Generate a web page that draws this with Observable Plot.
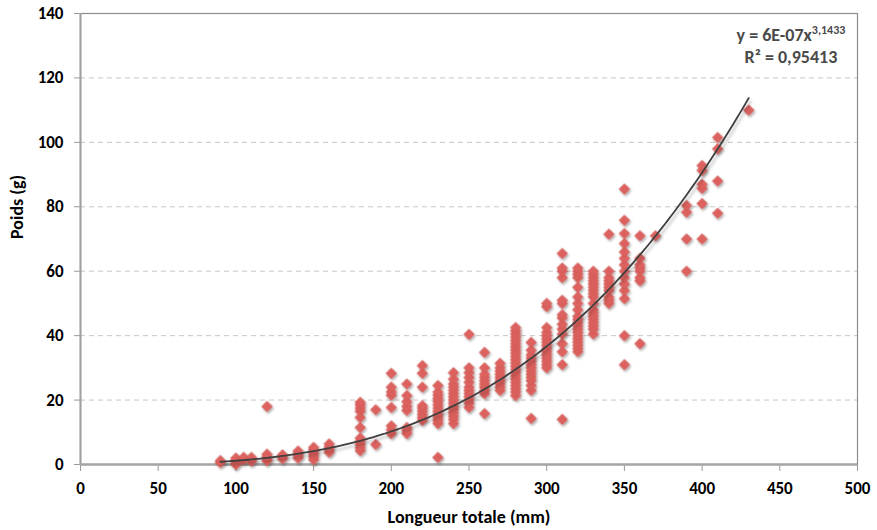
<!DOCTYPE html>
<html>
<head>
<meta charset="utf-8">
<script src="https://cdn.jsdelivr.net/npm/d3@7"></script>
<script src="https://cdn.jsdelivr.net/npm/@observablehq/plot@0.6"></script>
<style>
  html, body { margin: 0; padding: 0; background: #fff; }
</style>
</head>
<body>
<div id="chart"></div>
<script>
// ---- Data ----
const lengths = [90,100,105,110,120,130,140,150,160,180,190,200,210,220,230,240,250,260,270,280,290,300,310,320,330,340,350,360,370,390,400,410,430];
const weights = [
  [0.6, 1.2],
  [0, 0.4, 1, 1.5, 2],
  [1.5, 2.2],
  [1, 1.6, 2.2],
  [1.2, 1.8, 2.4, 3.2, 18],
  [1.8, 2.5, 3],
  [2, 2.8, 3.4, 4.2],
  [1.5, 2.4, 3.2, 4, 4.6, 5.3],
  [3.8, 4.6, 5.4, 6.4],
  [4.3, 5.2, 6.2, 7.2, 8.2, 11.5, 14.6, 16.5, 17.5, 18.5, 19.3],
  [6.2, 17],
  [9.6, 10.8, 12, 17.7, 21.5, 22.5, 24, 28.3],
  [9.6, 10.6, 11.5, 16.8, 18, 19.5, 21.4, 25],
  [13.7, 14.6, 15.5, 16.5, 17.5, 18.3, 24, 28.3, 30.7],
  [2.2, 12.7, 13.7, 14.6, 15.6, 16.5, 17.5, 18.5, 19.5, 20.5, 21.5, 22.5, 24.5],
  [12.7, 14, 15, 16, 17, 18, 19, 20, 21, 22, 23, 24, 25, 26.5, 28.5],
  [17.7, 19, 20, 21, 22, 23, 24, 25.5, 27, 28.5, 30, 40.4],
  [15.8, 22, 23, 24, 25, 26, 27, 28, 30, 34.8],
  [23, 24, 25, 26, 27, 28, 29, 30, 31.4],
  [21.4, 22.5, 23.5, 24.5, 25.5, 26.5, 27.5, 28.5, 29.5, 30.5, 31.5, 32.5, 33.5, 34.5, 35.5, 36.5, 37.5, 38.5, 39.5, 40.5, 41.5, 42.5],
  [14.3, 23, 24.5, 26, 27, 28, 29, 30, 31, 32, 33, 34, 35.5, 37.9],
  [30, 31, 32, 33, 34, 35, 36, 37, 38, 39, 40, 41, 42.5, 49, 50],
  [14, 31, 35, 37.5, 40.5, 42, 43.5, 45.5, 46.5, 50, 51, 58, 60, 61, 65.5],
  [35, 36, 37, 38, 39, 40, 41, 42, 43, 44, 45, 46, 48, 50, 52, 55, 58, 59, 60, 61],
  [40.5, 42, 43, 44, 45, 46, 47, 48, 50, 52, 53, 54, 55, 56, 57, 58, 59, 60],
  [50, 51, 52, 54, 55, 56, 57, 58, 60, 71.5],
  [31, 40, 51.5, 54, 56, 58, 60, 62, 64, 66, 68.6, 71.7, 75.8, 85.5],
  [37.5, 57, 58, 60, 61, 62, 64, 71],
  [71],
  [60, 70, 78.3, 80.4],
  [70, 81, 85.7, 87, 91.3, 92.8],
  [78, 88, 98, 101.5],
  [110]
];
// Power trendline shown on the chart: y = 6E-07 x^3.1433, R² = 0.95413
const trendCoef = 6e-7;
const trendExp = 3.1433;
const trendRange = [90, 430];
const equationLines = ["y = 6E-07x", "3,1433", "R\u00B2 = 0,95413"];
const xTicks = [0, 50, 100, 150, 200, 250, 300, 350, 400, 450, 500];
const yTicks = [0, 20, 40, 60, 80, 100, 120, 140];
const xLabel = "Longueur totale (mm)";
const yLabel = "Poids (g)";

// ---- Build tables ----
const points = lengths.flatMap((L, i) => weights[i].map(w => ({L, w})));
const trend = d3.range(trendRange[0], trendRange[1] + 0.001, 2).map(L => ({L, w: trendCoef * Math.pow(L, trendExp)}));

const FONT = "Carlito, Calibri, Lato, 'Open Sans', sans-serif";

const plot = Plot.plot({
  width: 877,
  height: 530,
  marginLeft: 80,
  marginRight: 20,
  marginTop: 13,
  marginBottom: 66,
  style: {fontFamily: FONT, fontSize: "17px", fontWeight: "bold", color: "#000", background: "#fff", overflow: "visible"},
  x: {domain: [0, 500], label: null},
  y: {domain: [0, 140], label: null},
  marks: [
    Plot.gridY(yTicks.filter(v => v > 0 && v < 140), {stroke: "#c6c6c6", strokeOpacity: 1, strokeWidth: 1, strokeDasharray: "5,4"}),
    Plot.frame({stroke: "#8c8c8c", strokeWidth: 1.2}),
    Plot.axisX({ticks: xTicks, tickSize: 7, tickPadding: 10, stroke: "#9a9a9a", fill: "#000", label: null, fontSize: 17, tickFormat: d => String(d)}),
    Plot.axisY({ticks: yTicks, tickSize: 6, tickPadding: 11, stroke: "#9a9a9a", fill: "#000", label: null, fontSize: 17, tickFormat: d => String(d)}),
    Plot.ruleX([0], {stroke: "#a0a0a0", strokeWidth: 2}),
    Plot.ruleY([0], {stroke: "#a6a6a6", strokeWidth: 2.6}),
    Plot.dot(points, {x: "L", y: "w", symbol: "diamond2", r: 4.8, fill: "#dd625f", stroke: "#c8524e", strokeWidth: 0.6}),
    Plot.line(trend, {x: "L", y: "w", stroke: "#3f3f3f", strokeWidth: 1.8, curve: "natural"}),
    Plot.text([xLabel], {frameAnchor: "bottom", dy: 58, fontSize: 18, fontWeight: "bold", fill: "#000"}),
    Plot.text([yLabel], {frameAnchor: "left", dx: -63, rotate: -90, fontSize: 18, fontWeight: "bold", fill: "#000"})
  ]
});

// Drop shadows similar to the spreadsheet look
const svg = d3.select(plot);
const defs = svg.insert("defs", ":first-child");
defs.append("filter").attr("id", "dotShadow").attr("x", "-20%").attr("y", "-20%").attr("width", "140%").attr("height", "140%")
  .append("feDropShadow").attr("dx", 1.2).attr("dy", 1.8).attr("stdDeviation", 1.2).attr("flood-color", "#000").attr("flood-opacity", 0.35);
defs.append("filter").attr("id", "lineShadow").attr("x", "-10%").attr("y", "-10%").attr("width", "120%").attr("height", "120%")
  .append("feDropShadow").attr("dx", 2).attr("dy", 3).attr("stdDeviation", 1.5).attr("flood-color", "#000").attr("flood-opacity", 0.25);
svg.selectAll("g[aria-label=dot]").attr("filter", "url(#dotShadow)");
svg.selectAll("g[aria-label=line]").attr("filter", "url(#lineShadow)");

// Trendline equation, positioned through the plot's scales
const sx = plot.scale("x"), sy = plot.scale("y");
const eqX = sx.apply(457.5);
const t1 = svg.append("text").attr("x", eqX).attr("y", sy.apply(131.4)).attr("text-anchor", "middle")
  .attr("fill", "#4a4a4a").attr("font-family", FONT).attr("font-weight", "bold").attr("font-size", 18);
t1.append("tspan").text(equationLines[0]);
t1.append("tspan").attr("dy", -7).attr("font-size", 12).text(equationLines[1]);
svg.append("text").attr("x", eqX).attr("y", sy.apply(124.4)).attr("text-anchor", "middle")
  .attr("fill", "#4a4a4a").attr("font-family", FONT).attr("font-weight", "bold").attr("font-size", 18)
  .text(equationLines[2]);

document.getElementById("chart").appendChild(plot);
</script>
</body>
</html>
